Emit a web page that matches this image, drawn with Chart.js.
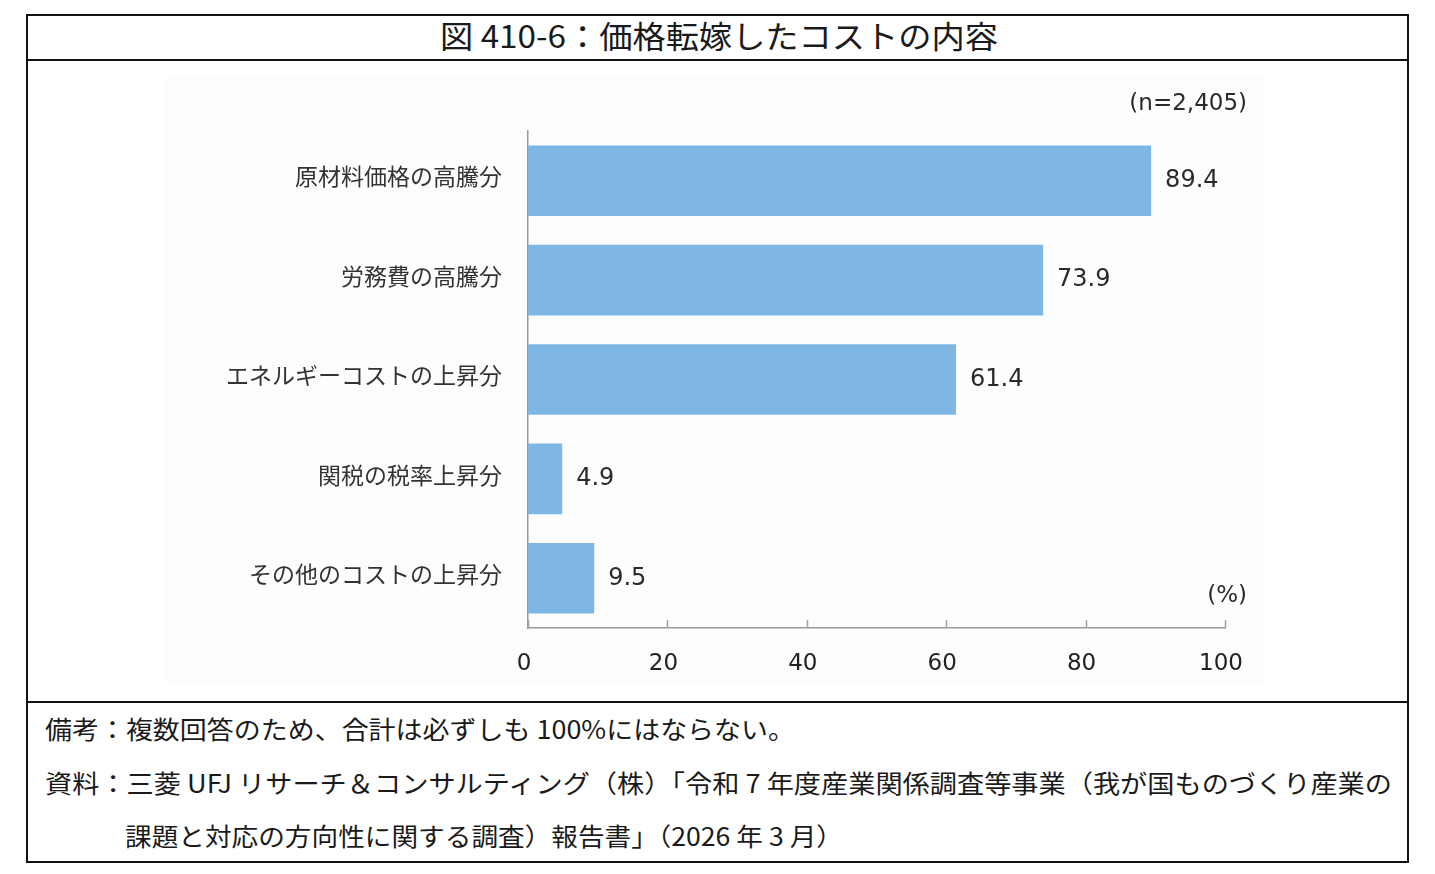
<!DOCTYPE html>
<html lang="ja">
<head>
<meta charset="utf-8">
<script src="https://cdn.jsdelivr.net/npm/chart.js@4/dist/chart.umd.min.js"></script>
<style>
  html, body { margin:0; padding:0; background:#fff; }
  body { width:1435px; height:874px; position:relative; overflow:hidden; font-family:"Noto Sans CJK JP", sans-serif; color:#1a1a1a; }
  #frame { position:absolute; left:26px; top:14px; width:1379px; height:845px; border:2px solid #111; }
  #titleLine { position:absolute; left:26px; top:59px; width:1383px; height:2px; background:#111; }
  #notesLine { position:absolute; left:26px; top:701px; width:1383px; height:2px; background:#111; }
  .txt { position:absolute; white-space:nowrap; transform-origin:0 50%; line-height:1; }
  #title { font-size:31px; top:19px; left:440px; }
  .note { font-size:25px; }
  #chartBox { position:absolute; left:165px; top:75px; width:1100px; height:610px; background:#fdfdfd; }
</style>
</head>
<body>
<div id="frame"></div>
<div id="titleLine"></div>
<div id="notesLine"></div>
<div class="txt" id="title" data-w="558">図 410-6：価格転嫁したコストの内容</div>
<div id="chartBox"><canvas id="c" width="1100" height="610"></canvas></div>
<div class="txt note" id="n1" style="left:45px;top:716px;" data-w="750">備考：複数回答のため、合計は必ずしも 100%にはならない。</div>
<div class="txt note" id="n2" style="left:45px;top:770px;" data-w="1347">資料：三菱 UFJ リサーチ＆コンサルティング（株）「令和 7 年度産業関係調査等事業（我が国ものづくり産業の</div>
<div class="txt note" id="n3" style="left:125px;top:823px;" data-w="718">課題と対応の方向性に関する調査）報告書」（2026 年 3 月）</div>
<script>
const categories = ["原材料価格の高騰分", "労務費の高騰分", "エネルギーコストの上昇分", "関税の税率上昇分", "その他のコストの上昇分"];
const values = [89.4, 73.9, 61.4, 4.9, 9.5];
const xTicks = [0, 20, 40, 60, 80, 100];
const sampleNote = "(n=2,405)";
const unitNote = "(%)";

// fit text widths
document.querySelectorAll('.txt').forEach(el => {
  const target = parseFloat(el.dataset.w);
  const w = el.getBoundingClientRect().width;
  if (w > 0) el.style.transform = 'scaleX(' + (target / w) + ')';
});

const numFont = '"DejaVu Sans", "Noto Sans CJK JP", sans-serif';
const jpFont = '"Noto Sans CJK JP", sans-serif';

const extras = {
  id: 'extras',
  afterDatasetsDraw(chart) {
    const ctx = chart.ctx;
    const xs = chart.scales.x;
    const area = chart.chartArea;
    ctx.save();
    // upward tick marks
    ctx.strokeStyle = '#a0a0a0';
    ctx.lineWidth = 1.5;
    xTicks.forEach(v => {
      const x = Math.round(xs.getPixelForValue(v)) + 0.5;
      ctx.beginPath();
      ctx.moveTo(x, area.bottom - 8);
      ctx.lineTo(x, area.bottom);
      ctx.stroke();
    });
    // value labels
    ctx.fillStyle = '#2a2a2a';
    ctx.font = '24px ' + numFont;
    ctx.textBaseline = 'middle';
    ctx.textAlign = 'left';
    const meta = chart.getDatasetMeta(0);
    meta.data.forEach((bar, i) => {
      ctx.fillText(values[i].toFixed(1), bar.x + 14, bar.y);
    });
    // notes
    ctx.textAlign = 'right';
    ctx.font = '23px ' + numFont;
    ctx.fillText(sampleNote, 1082, 29);
    ctx.fillText(unitNote, 1082, 521);
    ctx.restore();
  }
};

new Chart(document.getElementById('c'), {
  type: 'bar',
  data: {
    labels: categories,
    datasets: [{
      data: values,
      backgroundColor: 'rgb(126,183,227)',
      borderWidth: 0,
      barPercentage: 0.71,
      categoryPercentage: 1.0
    }]
  },
  options: {
    indexAxis: 'y',
    responsive: false,
    animation: false,
    events: [],
    layout: { padding: { top: 56, right: 40, left: 0, bottom: 0 } },
    plugins: { legend: { display: false }, tooltip: { enabled: false } },
    scales: {
      x: {
        min: 0, max: 100,
        afterFit(s) { s.height = 57; s.paddingLeft = 0; s.paddingRight = 0; },
        afterBuildTicks(s) { s.ticks = xTicks.map(v => ({ value: v })); },
        grid: { display: false, drawTicks: false },
        border: { display: true, color: '#999999', width: 1.5 },
        ticks: { color: '#222', font: { family: numFont, size: 23 }, padding: 22, maxRotation: 0, labelOffset: -4 }
      },
      y: {
        afterFit(s) { s.width = 363; s.paddingTop = 0; s.paddingBottom = 0; },
        grid: { display: false, drawTicks: false },
        border: { display: true, color: '#999999', width: 1.5 },
        ticks: { color: '#333', font: { family: jpFont, size: 23 }, padding: 26, labelOffset: -4 }
      }
    }
  },
  plugins: [extras]
});
</script>
</body>
</html>
